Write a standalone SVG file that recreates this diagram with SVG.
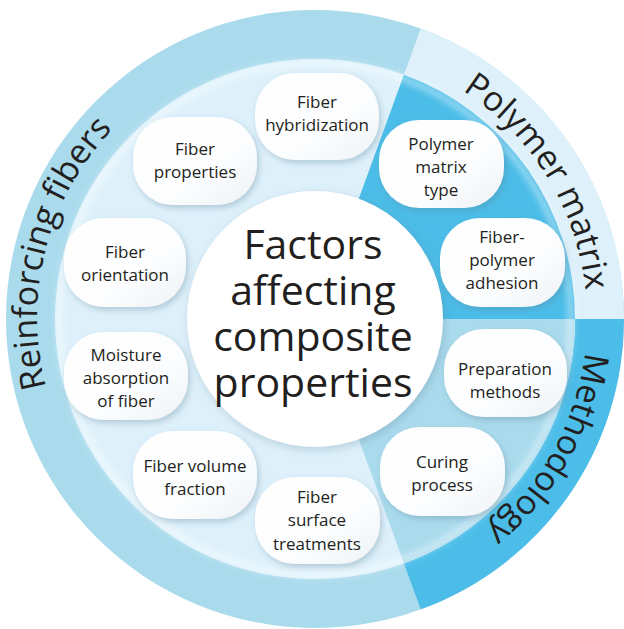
<svg xmlns="http://www.w3.org/2000/svg" xmlns:xlink="http://www.w3.org/1999/xlink" width="624" height="629" viewBox="0 0 624 629">
<style>
  .dark { fill: #4bbde8; }
  .mid { fill: #aadbed; }
  .light { fill: #def1fb; }
  .band-label { font-family: "Open Sans", "Liberation Sans", sans-serif; font-size: 34px; fill: #231f20; }
  .center-label { font-family: "Open Sans", "Liberation Sans", sans-serif; font-size: 41px; fill: #231f20; text-anchor: middle; }
  .node-box { fill: url(#nodeGrad); filter: url(#shadow); }
  .node-label { font-family: "Open Sans", "Liberation Sans", sans-serif; font-size: 17px; fill: #231f20; text-anchor: middle; }
</style>
<defs>
  <linearGradient id="nodeGrad" x1="0" y1="0" x2="1" y2="1">
    <stop offset="0" stop-color="#ffffff"/>
    <stop offset="0.6" stop-color="#fcfdfe"/>
    <stop offset="1" stop-color="#eef3f6"/>
  </linearGradient>
  <filter id="shadow" x="-20%" y="-20%" width="150%" height="150%">
    <feDropShadow dx="2" dy="3" stdDeviation="3" flood-color="#5a7f95" flood-opacity="0.35"/>
  </filter>
  <filter id="bigShadow" x="-20%" y="-20%" width="140%" height="140%">
    <feDropShadow dx="2" dy="3" stdDeviation="5" flood-color="#5a7f95" flood-opacity="0.3"/>
  </filter>
  <filter id="soft" x="-10%" y="-10%" width="120%" height="120%">
    <feGaussianBlur stdDeviation="3"/>
  </filter>
  <path id="arcReinforcing" d="M 122.3 515.2 A 272 272 0 0 1 241.5 54.0"/>
  <path id="arcPolymer" d="M 307.35 47 A 272 272 0 0 1 554.2 448.3"/>
  <path id="arcMethod" d="M 548.2 178.9 A 272 272 0 0 1 319.7 591.0"/>
</defs>

<g id="background">
  <circle cx="315" cy="319" r="309" class="mid"/>
  <path class="light" d="M 420.68 28.63 A 309 309 0 0 1 624 319 L 575 319 A 260 260 0 0 0 403.93 74.68 Z"/>
  <path class="dark" d="M 624 319 A 309 309 0 0 1 420.68 609.37 L 403.93 563.32 A 260 260 0 0 0 575 319 Z"/>
  <circle cx="315" cy="319" r="260" class="light"/>
  <path class="dark" d="M 315 319 L 403.93 74.68 A 260 260 0 0 1 575 319 Z"/>
  <path class="mid" d="M 315 319 L 575 319 A 260 260 0 0 1 403.93 563.32 Z"/>
  <circle cx="315" cy="319" r="256" fill="none" stroke="#ffffff" stroke-opacity="0.45" stroke-width="6" filter="url(#soft)"/>
</g>

<g id="sector-labels">
  <text class="band-label"><textPath xlink:href="#arcReinforcing" href="#arcReinforcing" startOffset="50%" text-anchor="middle">Reinforcing fibers</textPath></text>
  <text class="band-label"><textPath xlink:href="#arcPolymer" href="#arcPolymer" startOffset="50%" text-anchor="middle">Polymer matrix</textPath></text>
  <text class="band-label"><textPath xlink:href="#arcMethod" href="#arcMethod" startOffset="50%" text-anchor="middle">Methodology</textPath></text>
</g>

<g id="connectors"></g>

<g id="node-center">
  <circle cx="315" cy="319" r="128" fill="#ffffff" filter="url(#bigShadow)"/>
  <text class="center-label" x="313" y="259">Factors</text>
  <text class="center-label" x="313" y="305">affecting</text>
  <text class="center-label" x="313" y="351">composite</text>
  <text class="center-label" x="313" y="397">properties</text>
</g>

<g id="node-fiber-hybridization">
  <rect class="node-box" x="255" y="73" width="124" height="87" rx="40"/>
  <text class="node-label" x="317" y="108">Fiber</text>
  <text class="node-label" x="317" y="131">hybridization</text>
</g>
<g id="node-fiber-properties">
  <rect class="node-box" x="133" y="117" width="124" height="88" rx="40"/>
  <text class="node-label" x="195" y="155">Fiber</text>
  <text class="node-label" x="195" y="178">properties</text>
</g>
<g id="node-fiber-orientation">
  <rect class="node-box" x="64" y="218" width="122" height="89" rx="40"/>
  <text class="node-label" x="125" y="258">Fiber</text>
  <text class="node-label" x="125" y="281">orientation</text>
</g>
<g id="node-moisture-absorption">
  <rect class="node-box" x="64" y="332" width="124" height="88" rx="40"/>
  <text class="node-label" x="126" y="361">Moisture</text>
  <text class="node-label" x="126" y="384">absorption</text>
  <text class="node-label" x="126" y="407">of fiber</text>
</g>
<g id="node-fiber-volume-fraction">
  <rect class="node-box" x="133" y="431" width="124" height="88" rx="40"/>
  <text class="node-label" x="195" y="472">Fiber volume</text>
  <text class="node-label" x="195" y="495">fraction</text>
</g>
<g id="node-fiber-surface-treatments">
  <rect class="node-box" x="255" y="477" width="125" height="87" rx="40"/>
  <text class="node-label" x="317" y="503">Fiber</text>
  <text class="node-label" x="317" y="526">surface</text>
  <text class="node-label" x="317" y="550">treatments</text>
</g>
<g id="node-polymer-matrix-type">
  <rect class="node-box" x="379" y="120" width="125" height="88" rx="40"/>
  <text class="node-label" x="441" y="150">Polymer</text>
  <text class="node-label" x="441" y="173">matrix</text>
  <text class="node-label" x="441" y="196">type</text>
</g>
<g id="node-fiber-polymer-adhesion">
  <rect class="node-box" x="440" y="218" width="125" height="89" rx="40"/>
  <text class="node-label" x="502" y="243">Fiber-</text>
  <text class="node-label" x="502" y="266">polymer</text>
  <text class="node-label" x="502" y="289">adhesion</text>
</g>
<g id="node-preparation-methods">
  <rect class="node-box" x="444" y="329" width="123" height="88" rx="40"/>
  <text class="node-label" x="505" y="375">Preparation</text>
  <text class="node-label" x="505" y="398">methods</text>
</g>
<g id="node-curing-process">
  <rect class="node-box" x="380" y="427" width="125" height="89" rx="40"/>
  <text class="node-label" x="442" y="468">Curing</text>
  <text class="node-label" x="442" y="491">process</text>
</g>
</svg>
